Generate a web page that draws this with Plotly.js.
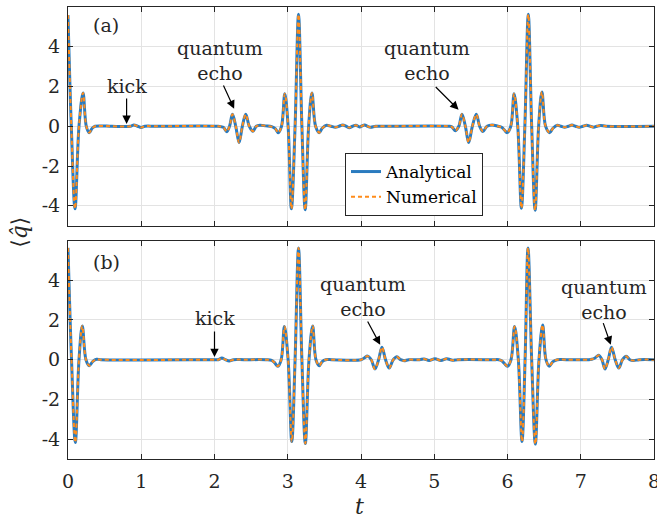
<!DOCTYPE html>
<html>
<head>
<meta charset="utf-8">
<script src="https://cdn.plot.ly/plotly-3.0.1.min.js"></script>
<style>html,body{margin:0;padding:0;background:#fff;}#chart{width:657px;height:521px;}</style>
</head>
<body>
<div id="chart"></div>
<script>
// ---- Panel (a): time and <q> values ----
const tA = [0, 0.045, 0.096, 0.15, 0.205, 0.25, 0.29, 0.33, 0.37, 0.45,
  0.6, 0.85, 0.9, 0.95, 1.0, 1.05, 1.2,
  2.05, 2.12, 2.168, 2.205, 2.245, 2.29, 2.336, 2.38, 2.427, 2.475, 2.525, 2.57, 2.62, 2.7, 2.78, 2.83,
  2.87, 2.915, 2.96, 3.005, 3.05, 3.1, 3.147, 3.193, 3.238, 3.285, 3.33, 3.38, 3.43, 3.47, 3.53,
  3.59, 3.65, 3.7, 3.75, 3.8, 3.84, 3.885, 3.93, 3.98, 4.05, 4.09, 4.13, 4.2, 4.3,
  5.2, 5.24, 5.29, 5.335, 5.378, 5.425, 5.47, 5.52, 5.574, 5.62, 5.665, 5.72, 5.79, 5.87, 5.92, 5.96,
  5.995, 6.045, 6.09, 6.14, 6.19, 6.237, 6.284, 6.33, 6.377, 6.425, 6.47, 6.52, 6.575, 6.62, 6.68,
  6.73, 6.78, 6.83, 6.88, 6.93, 6.98, 7.03, 7.08, 7.13, 7.18, 7.22, 7.27, 7.35, 8];
const qA = [5.6, 0, -4.15, 0, 1.68, 0, -0.32, -0.1, 0, 0.02,
  0, 0, 0.07, 0, -0.06, 0, 0,
  0, -0.05, -0.27, 0, 0.6, 0, -0.82, 0, 0.6, 0, -0.25, 0, 0.05, 0.02, -0.02, -0.12,
  -0.32, 0, 1.63, 0, -4.15, 0, 5.63, 0, -4.2, 0, 1.68, 0, -0.32, -0.1, 0.05,
  0, -0.05, 0, 0.07, 0, -0.07, 0, 0.05, -0.03, 0.07, 0, -0.05, 0, 0,
  0, -0.03, -0.22, 0, 0.6, 0, -0.82, 0, 0.6, 0, -0.26, 0, 0.07, 0, -0.05, -0.2,
  -0.32, 0, 1.63, 0, -4.12, 0, 5.63, 0, -4.22, 0, 1.73, 0, -0.32, -0.1, 0.05,
  0, -0.05, 0, 0.06, 0, -0.05, 0, 0.05, 0, -0.05, 0, 0.04, 0, 0];

// ---- Panel (b) ----
const tB = [0, 0.048, 0.1, 0.15, 0.195, 0.245, 0.29, 0.34, 0.39, 0.45,
  1.95, 2.05, 2.1, 2.15, 2.2, 2.26, 2.4,
  2.7, 2.78, 2.82, 2.865, 2.91, 2.955, 3.005, 3.055, 3.1, 3.147, 3.193, 3.24, 3.29, 3.34, 3.385, 3.43, 3.47, 3.52, 3.6,
  4.0, 4.05, 4.09, 4.14, 4.19, 4.24, 4.286, 4.335, 4.385, 4.44, 4.49, 4.54, 4.59, 4.65,
  4.8, 4.86, 4.93, 5.01, 5.09, 5.17, 5.25, 5.32, 5.8,
  5.88, 5.92, 5.96, 6.0, 6.048, 6.097, 6.148, 6.198, 6.24, 6.28, 6.33, 6.38, 6.43, 6.48, 6.525, 6.57, 6.62, 6.68, 6.8,
  7.1, 7.15, 7.2, 7.245, 7.29, 7.33, 7.375, 7.42, 7.47, 7.52, 7.57, 7.62, 7.67, 7.72, 7.8, 8];
const qB = [5.63, 0, -4.17, 0, 1.7, 0, -0.3, -0.08, 0.02, 0,
  0, 0, 0.08, 0, -0.06, 0, 0,
  0, -0.03, -0.15, -0.33, 0, 1.67, 0, -4.12, 0, 5.63, 0, -4.22, 0, 1.7, 0, -0.3, -0.1, 0, 0,
  0, 0.1, 0.18, 0, -0.47, 0, 0.63, 0, -0.42, 0, 0.15, 0, -0.05, 0,
  0, 0.04, -0.04, 0.05, -0.04, 0.05, -0.03, 0, 0,
  0, -0.05, -0.2, -0.33, 0, 1.67, 0, -4.12, 0, 5.63, 0, -4.25, 0, 1.75, 0, -0.33, -0.1, 0, 0,
  0, 0.02, 0.1, 0.22, 0, -0.47, 0, 0.63, 0, -0.42, 0, 0.17, 0, -0.04, 0, 0];

const yTickVals = [-4, -2, 0, 2, 4];
const yTickText = ['-4', '-2', '0', '2', '4'];
const xTickVals = [0, 1, 2, 3, 4, 5, 6, 7, 8];
const xTickText = ['0', '1', '2', '3', '4', '5', '6', '7', '8'];
const seriesNames = ['Analytical', 'Numerical'];

const BLUE = '#2A7BBF';
const ORANGE = '#FF8C1A';
const FONT = 'DejaVu Serif';

function pair(t, q, xa, ya, legend) {
  return [
    {x: t, y: q, xaxis: xa, yaxis: ya, type: 'scatter', mode: 'lines', name: seriesNames[0],
     showlegend: legend, line: {color: BLUE, width: 3, shape: 'spline', smoothing: 1}},
    {x: t, y: q, xaxis: xa, yaxis: ya, type: 'scatter', mode: 'lines', name: seriesNames[1],
     showlegend: legend, line: {color: ORANGE, width: 2, dash: '4px,3px', shape: 'spline', smoothing: 1}}
  ];
}
const data = [...pair(tA, qA, 'x', 'y', true), ...pair(tB, qB, 'x2', 'y2', false)];

const axBase = {
  showline: true, linecolor: '#262626', linewidth: 1, mirror: 'ticks',
  ticks: 'inside', ticklen: 5, tickwidth: 1, tickcolor: '#262626',
  showgrid: true, gridcolor: '#E3E3E3', gridwidth: 1, zeroline: false,
  ticklabeloverflow: 'allow',
  tickfont: {family: FONT, size: 19, color: '#262626'}
};
const xa = Object.assign({}, axBase, {range: [0, 8], tickmode: 'array', tickvals: xTickVals, ticktext: xTickText});
const ya = Object.assign({}, axBase, {range: [-5, 6], tickmode: 'array', tickvals: yTickVals, ticktext: yTickText, ticklabelstandoff: 3});

const tf = {family: FONT, size: 19, color: '#262626'};
function txt(x, y, s, xref, yref, extra) {
  return Object.assign({x: x, y: y, xref: xref, yref: yref, text: s, showarrow: false, font: tf,
    xanchor: 'center', yanchor: 'middle'}, extra || {});
}
function arr(x0, y0, x1, y1, xref, yref) {
  return {x: x1, y: y1, ax: x0, ay: y0, xref: xref, yref: yref, axref: xref, ayref: yref,
    text: '', showarrow: true, arrowhead: 2, arrowsize: 1.4, arrowwidth: 1.2, arrowcolor: '#000'};
}

const annotations = [
  txt(0.52, 5.1, '(a)', 'x', 'y'),
  txt(0.52, 4.9, '(b)', 'x2', 'y2'),
  // top panel
  txt(0.81, 2.05, 'kick', 'x', 'y'),
  arr(0.8, 1.47, 0.8, 0.12, 'x', 'y'),
  txt(2.08, 3.3, 'quantum<br>echo', 'x', 'y'),
  arr(2.113, 2.13, 2.268, 0.88, 'x', 'y'),
  txt(4.9, 3.3, 'quantum<br>echo', 'x', 'y'),
  arr(5.0, 2.05, 5.332, 0.83, 'x', 'y'),
  // bottom panel
  txt(2.0, 2.1, 'kick', 'x2', 'y2'),
  arr(2.0, 1.5, 2.0, 0.13, 'x2', 'y2'),
  txt(4.03, 3.2, 'quantum<br>echo', 'x2', 'y2'),
  arr(4.08, 2.0, 4.262, 0.75, 'x2', 'y2'),
  txt(7.32, 3.05, 'quantum<br>echo', 'x2', 'y2'),
  arr(7.3, 1.92, 7.41, 0.75, 'x2', 'y2'),
  // axis titles
  txt(-0.082, 0.5025, '⟨<i>q̂</i>⟩', 'paper', 'paper', {textangle: -90, font: {family: FONT, size: 22, color: '#262626'}}),
  txt(0.498, -0.1044, '<i>t</i>', 'paper', 'paper', {font: {family: FONT, size: 22, color: '#262626'}})
];

const layout = {
  width: 657, height: 521,
  margin: {l: 68, r: 3, t: 7, b: 62},
  paper_bgcolor: '#fff', plot_bgcolor: '#fff',
  xaxis: Object.assign({}, xa, {anchor: 'y', domain: [0, 1], showticklabels: false}),
  yaxis: Object.assign({}, ya, {anchor: 'x', domain: [0.5162, 1]}),
  xaxis2: Object.assign({}, xa, {anchor: 'y2', domain: [0, 1], ticklabelstandoff: 5}),
  yaxis2: Object.assign({}, ya, {anchor: 'x2', domain: [0, 0.4833]}),
  showlegend: true,
  legend: {x: 0.4727, y: 0.677, xanchor: 'left', yanchor: 'top', bgcolor: '#fff',
    bordercolor: '#262626', borderwidth: 1, font: {family: FONT, size: 17, color: '#000'},
    itemwidth: 30, tracegroupgap: 0},
  annotations: annotations
};

Plotly.newPlot('chart', data, layout, {staticPlot: true, displayModeBar: false});
</script>
</body>
</html>
